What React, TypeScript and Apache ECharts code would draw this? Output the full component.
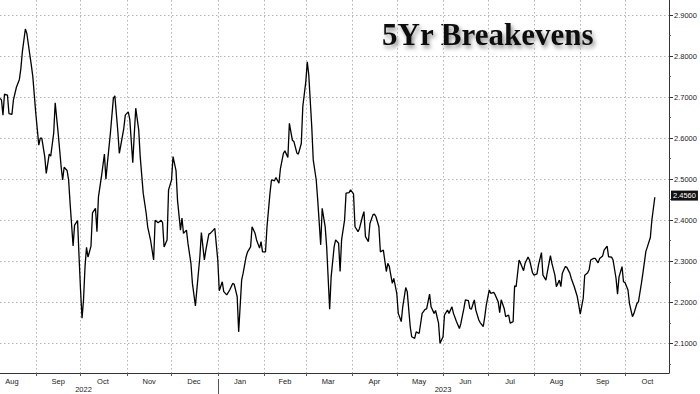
import React, { useEffect, useRef } from "react";
import * as echarts from "echarts";

const TITLE = "5Yr Breakevens";

const DATES: string[] = [
  "2022-08-08","2022-08-09","2022-08-10","2022-08-11","2022-08-13","2022-08-14","2022-08-16","2022-08-17","2022-08-19","2022-08-21","2022-08-22","2022-08-23","2022-08-25","2022-08-26","2022-08-28","2022-08-29","2022-08-30",
  "2022-09-01","2022-09-03","2022-09-04","2022-09-05","2022-09-07","2022-09-08","2022-09-10","2022-09-11","2022-09-13","2022-09-14","2022-09-16","2022-09-18","2022-09-19","2022-09-20","2022-09-22","2022-09-23","2022-09-24","2022-09-26","2022-09-27","2022-09-29","2022-09-30",
  "2022-10-01","2022-10-02","2022-10-03","2022-10-04","2022-10-05","2022-10-06","2022-10-08","2022-10-09","2022-10-11","2022-10-12","2022-10-13","2022-10-15","2022-10-17","2022-10-18","2022-10-19","2022-10-21","2022-10-23","2022-10-24","2022-10-26","2022-10-27","2022-10-28","2022-10-30","2022-10-31",
  "2022-11-02","2022-11-03","2022-11-05","2022-11-06","2022-11-07","2022-11-09","2022-11-10","2022-11-12","2022-11-14","2022-11-15","2022-11-17","2022-11-19","2022-11-20","2022-11-22","2022-11-24","2022-11-25","2022-11-26","2022-11-28","2022-11-29",
  "2022-12-01","2022-12-02","2022-12-04","2022-12-05","2022-12-07","2022-12-08","2022-12-09","2022-12-11","2022-12-12","2022-12-14","2022-12-15","2022-12-17","2022-12-18","2022-12-20","2022-12-21","2022-12-23","2022-12-24","2022-12-26","2022-12-27","2022-12-29","2022-12-30",
  "2023-01-01","2023-01-02","2023-01-04","2023-01-05","2023-01-07","2023-01-09","2023-01-11","2023-01-12","2023-01-14","2023-01-15","2023-01-17","2023-01-18","2023-01-20","2023-01-21","2023-01-23","2023-01-24","2023-01-26","2023-01-27","2023-01-29","2023-01-30","2023-01-31",
  "2023-02-02","2023-02-03","2023-02-05","2023-02-06","2023-02-08","2023-02-09","2023-02-11","2023-02-12","2023-02-14","2023-02-15","2023-02-17","2023-02-18","2023-02-20","2023-02-21","2023-02-23","2023-02-24","2023-02-26","2023-02-27",
  "2023-03-01","2023-03-02","2023-03-03","2023-03-05","2023-03-06","2023-03-08","2023-03-09","2023-03-11","2023-03-12","2023-03-14","2023-03-15","2023-03-17","2023-03-18","2023-03-20","2023-03-21","2023-03-23","2023-03-24","2023-03-25","2023-03-27","2023-03-28","2023-03-30","2023-03-31",
  "2023-04-02","2023-04-03","2023-04-05","2023-04-06","2023-04-08","2023-04-09","2023-04-10","2023-04-12","2023-04-13","2023-04-15","2023-04-16","2023-04-17","2023-04-19","2023-04-20","2023-04-22","2023-04-24","2023-04-25","2023-04-26","2023-04-28","2023-04-29",
  "2023-05-01","2023-05-02","2023-05-04","2023-05-05","2023-05-07","2023-05-08","2023-05-10","2023-05-11","2023-05-13","2023-05-14","2023-05-16","2023-05-18","2023-05-20","2023-05-21","2023-05-23","2023-05-24","2023-05-26","2023-05-27","2023-05-29","2023-05-30",
  "2023-06-01","2023-06-02","2023-06-04","2023-06-05","2023-06-07","2023-06-08","2023-06-10","2023-06-12","2023-06-13","2023-06-15","2023-06-16","2023-06-18","2023-06-19","2023-06-20","2023-06-22","2023-06-23","2023-06-25","2023-06-26","2023-06-28","2023-06-29","2023-06-30",
  "2023-07-02","2023-07-03","2023-07-05","2023-07-06","2023-07-08","2023-07-09","2023-07-10","2023-07-12","2023-07-13","2023-07-15","2023-07-16","2023-07-18","2023-07-19","2023-07-20","2023-07-22","2023-07-23","2023-07-25","2023-07-26","2023-07-28","2023-07-29","2023-07-31",
  "2023-08-01","2023-08-03","2023-08-04","2023-08-06","2023-08-07","2023-08-09","2023-08-10","2023-08-12","2023-08-13","2023-08-15","2023-08-16","2023-08-18","2023-08-19","2023-08-20","2023-08-22","2023-08-23","2023-08-25","2023-08-26","2023-08-28","2023-08-30","2023-08-31",
  "2023-09-01","2023-09-03","2023-09-04","2023-09-06","2023-09-07","2023-09-08","2023-09-10","2023-09-11","2023-09-13","2023-09-14","2023-09-16","2023-09-17","2023-09-19","2023-09-20","2023-09-22","2023-09-23","2023-09-25","2023-09-26","2023-09-27","2023-09-29","2023-09-30",
  "2023-10-01","2023-10-03","2023-10-04","2023-10-06","2023-10-07","2023-10-09","2023-10-10","2023-10-12","2023-10-13","2023-10-15","2023-10-16","2023-10-18","2023-10-19","2023-10-21",
];

const VALUES: number[] = [
  2.697,2.693,2.656,2.707,2.705,2.660,2.658,2.693,2.724,2.743,2.770,2.811,2.866,2.855,2.803,2.778,2.750,
  2.660,2.583,2.600,2.600,2.555,2.514,2.561,2.556,2.612,2.686,2.612,2.530,2.498,2.529,2.521,2.498,2.441,2.337,2.388,2.399,2.311,
  2.230,2.161,2.206,2.287,2.334,2.310,2.337,2.418,2.429,2.372,2.457,2.506,2.561,2.500,2.539,2.612,2.697,2.703,2.616,2.563,2.583,2.624,2.656,
  2.664,2.646,2.540,2.608,2.673,2.620,2.555,2.466,2.417,2.384,2.350,2.303,2.400,2.394,2.400,2.394,2.335,2.352,2.474,
  2.498,2.555,2.521,2.449,2.376,2.405,2.368,2.376,2.344,2.295,2.246,2.191,2.232,2.311,2.370,2.303,2.327,2.366,2.368,2.376,2.380,
  2.303,2.228,2.250,2.226,2.218,2.230,2.246,2.244,2.214,2.128,2.254,2.271,2.311,2.323,2.335,2.384,2.368,2.352,2.332,2.348,2.323,
  2.323,2.384,2.466,2.498,2.496,2.504,2.490,2.526,2.563,2.569,2.553,2.636,2.595,2.592,2.564,2.561,2.587,2.677,
  2.737,2.786,2.754,2.628,2.547,2.498,2.449,2.340,2.429,2.384,2.335,2.183,2.262,2.335,2.352,2.344,2.275,2.352,2.400,2.466,2.467,2.474,
  2.464,2.384,2.372,2.380,2.409,2.421,2.360,2.348,2.392,2.413,2.415,2.409,2.384,2.323,2.327,2.275,2.295,2.287,2.246,2.258,
  2.222,2.173,2.153,2.189,2.236,2.226,2.141,2.116,2.112,2.128,2.124,2.173,2.183,2.184,2.220,2.189,2.173,2.180,2.149,2.100,
  2.116,2.169,2.181,2.173,2.189,2.173,2.153,2.136,2.149,2.185,2.206,2.204,2.185,2.183,2.206,2.181,2.157,2.150,2.141,2.165,2.193,
  2.230,2.222,2.224,2.218,2.201,2.175,2.206,2.185,2.165,2.169,2.149,2.153,2.240,2.238,2.303,2.295,2.277,2.295,2.310,2.303,2.272,
  2.266,2.269,2.291,2.321,2.266,2.254,2.275,2.314,2.295,2.266,2.238,2.254,2.238,2.271,2.287,2.285,2.271,2.258,2.238,2.214,2.193,
  2.171,2.210,2.266,2.272,2.280,2.303,2.307,2.307,2.296,2.307,2.313,2.327,2.337,2.311,2.310,2.303,2.258,2.220,2.262,2.287,2.250,
  2.248,2.230,2.197,2.165,2.173,2.197,2.201,2.246,2.271,2.324,2.335,2.358,2.400,2.456,
];

const Y_TICKS = [2.1, 2.2, 2.3, 2.4, 2.5, 2.6, 2.7, 2.8, 2.9];
const Y_MINOR_TICKS = [2.05, 2.15, 2.25, 2.35, 2.45, 2.55, 2.65, 2.75, 2.85];
const Y_MIN = 2.0277;
const Y_MAX = 2.9366;

const X_MIN = "2022-08-08";
const X_MAX = "2023-10-30";

const MONTH_NAMES = ["Jan","Feb","Mar","Apr","May","Jun","Jul","Aug","Sep","Oct","Nov","Dec"];
const MONTH_STARTS = [
  "2022-09-01","2022-10-01","2022-11-01","2022-12-01","2023-01-01","2023-02-01","2023-03-01",
  "2023-04-01","2023-05-01","2023-06-01","2023-07-01","2023-08-01","2023-09-01","2023-10-01",
];
const MONTH_LABEL_DATES = [
  "2022-08-16","2022-09-16","2022-10-16","2022-11-16","2022-12-16","2023-01-16","2023-02-15","2023-03-16",
  "2023-04-16","2023-05-16","2023-06-16","2023-07-16","2023-08-16","2023-09-16","2023-10-16",
];
const YEAR_LABEL_DATES = ["2022-10-03", "2023-06-01"];
const YEAR_BREAKS = ["2023-01-01"];

const toTs = (s: string) => {
  const [y, m, d] = s.split("-").map(Number);
  return new Date(y, m - 1, d).getTime();
};

export default function App() {
  const ref = useRef<HTMLDivElement>(null);

  useEffect(() => {
    if (!ref.current) return;
    const chart = echarts.init(ref.current, undefined, { renderer: "svg" });
    const gridLine = { show: true, lineStyle: { color: "#b4b4b4", type: [1.5, 2.5] as any, width: 1 } };
    const labelFont = { fontFamily: "Liberation Sans", fontSize: 7.5, color: "#222" };
    const last = VALUES[VALUES.length - 1];
    const xMin = toTs(X_MIN);
    const xMax = toTs(X_MAX) + 12 * 3600 * 1000;

    chart.setOption({
      animation: false,
      backgroundColor: "#ffffff",
      grid: { left: 0, right: 31, top: 0, bottom: 21, containLabel: false, outerBoundsMode: "none" },
      xAxis: [
        {
          type: "value",
          min: xMin,
          max: xMax,
          position: "bottom",
          axisLine: { show: true, lineStyle: { color: "#333", width: 1 } },
          axisTick: { show: true, length: 3, customValues: MONTH_STARTS.map(toTs), lineStyle: { color: "#555" } },
          axisLabel: {
            ...labelFont,
            margin: 4,
            customValues: MONTH_LABEL_DATES.map(toTs),
            formatter: (v: number) => MONTH_NAMES[new Date(v).getMonth()],
          },
          splitLine: gridLine,
        },
        {
          type: "value",
          min: xMin,
          max: xMax,
          position: "bottom",
          offset: 6,
          axisLine: { show: false },
          axisTick: { show: true, length: 15, customValues: YEAR_BREAKS.map(toTs), lineStyle: { color: "#555" } },
          axisLabel: {
            ...labelFont,
            margin: 6,
            customValues: YEAR_LABEL_DATES.map(toTs),
            formatter: (v: number) => String(new Date(v).getFullYear()),
          },
          splitLine: { show: false },
        },
      ],
      yAxis: [
        {
          type: "value",
          position: "right",
          min: Y_MIN,
          max: Y_MAX,
          axisLine: { show: true, lineStyle: { color: "#333", width: 1 } },
          axisTick: { show: true, length: 4, customValues: Y_TICKS, lineStyle: { color: "#333" } },
          axisLabel: {
            ...labelFont,
            margin: 5,
            customValues: Y_TICKS,
            formatter: (v: number) => v.toFixed(4),
          },
          splitLine: gridLine,
        },
        {
          type: "value",
          position: "right",
          min: Y_MIN,
          max: Y_MAX,
          axisLine: { show: false },
          axisTick: { show: true, length: 2, customValues: Y_MINOR_TICKS, lineStyle: { color: "#555" } },
          axisLabel: { show: false },
          splitLine: { show: false },
        },
      ],
      graphic: [
        {
          type: "text",
          x: 382,
          y: 34.5,
          style: {
            text: TITLE,
            font: 'bold 31px "Liberation Serif"',
            fill: "#111",
            verticalAlign: "middle",
            textShadowColor: "rgba(0,0,0,0.45)",
            textShadowBlur: 4,
            textShadowOffsetX: 2,
            textShadowOffsetY: 3,
          },
        },
      ],
      series: [
        {
          type: "line",
          xAxisIndex: 0,
          yAxisIndex: 0,
          data: DATES.map((d, i) => [toTs(d), VALUES[i]]),
          showSymbol: false,
          symbol: "none",
          lineStyle: { color: "#000", width: 1.3 },
          markLine: {
            silent: true,
            symbol: "none",
            lineStyle: { color: "rgba(0,0,0,0)", width: 0 },
            data: [{ yAxis: last }],
            label: {
              show: true,
              position: "end",
              distance: 2,
              formatter: () => last.toFixed(4),
              color: "#fff",
              backgroundColor: "#111",
              fontFamily: "Liberation Sans",
              fontSize: 7.5,
              padding: [1, 2, 1, 2],
            },
          },
        },
      ],
    });
    return () => chart.dispose();
  }, []);

  return <div ref={ref} style={{ position: "fixed", left: 0, top: 0, width: 700, height: 394 }} />;
}
